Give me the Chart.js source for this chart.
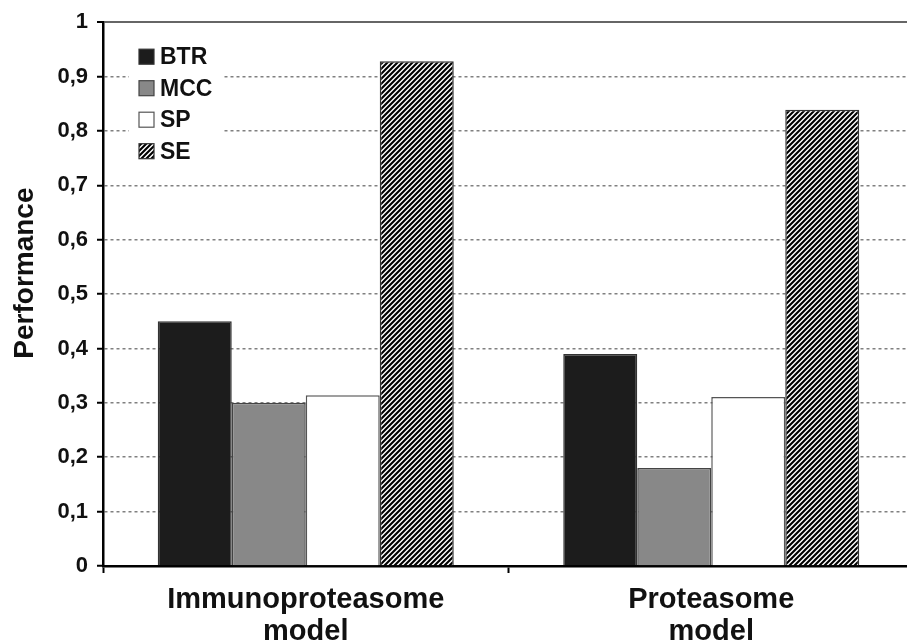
<!DOCTYPE html>
<html><head><meta charset="utf-8">
<script src="https://cdn.jsdelivr.net/npm/chart.js@4"></script>
<style>html,body{margin:0;padding:0;background:#fff;overflow:hidden}#wrap{position:relative;width:920px;height:644px}</style>
</head><body><div id="wrap"><canvas id="c"></canvas></div>
<script>
const categories = [['Immunoproteasome', 'model'], ['Proteasome', 'model']];
const seriesNames = ['BTR', 'MCC', 'SP', 'SE'];
const btr = [0.45, 0.39];
const mcc = [0.30, 0.18];
const sp = [0.314, 0.311];
const se = [0.928, 0.839];
const yTickLabels = ['0', '0,1', '0,2', '0,3', '0,4', '0,5', '0,6', '0,7', '0,8', '0,9', '1'];
const yTitle = 'Performance';

const FONT = "'Liberation Sans', Arial, sans-serif";

function hatch() {
  const c = document.createElement('canvas');
  c.width = 5; c.height = 5;
  const g = c.getContext('2d');
  g.fillStyle = '#fff'; g.fillRect(0, 0, 5, 5);
  g.strokeStyle = '#000'; g.lineWidth = 2.1;
  g.beginPath();
  g.moveTo(-1, 6); g.lineTo(6, -1);
  g.moveTo(-1, 1); g.lineTo(1, -1);
  g.moveTo(4, 6); g.lineTo(6, 4);
  g.stroke();
  return g.createPattern(c, 'repeat');
}
const hatchPattern = hatch();

const insideLegend = {
  id: 'insideLegend',
  afterDatasetsDraw(chart) {
    const {ctx, chartArea: a} = chart;
    ctx.save();
    ctx.fillStyle = '#fff';
    ctx.fillRect(a.left + 26, a.top + 17, 94, 128);
    chart.data.datasets.forEach((ds, i) => {
      const bx = a.left + 36, by = a.top + 27 + i * 31.5;
      ctx.fillStyle = ds.backgroundColor;
      ctx.fillRect(bx, by, 15, 15);
      ctx.lineWidth = 1.2;
      ctx.strokeStyle = ds.borderColor;
      ctx.strokeRect(bx, by, 15, 15);
      ctx.fillStyle = '#111';
      ctx.font = 'bold 23px ' + FONT;
      ctx.textAlign = 'left';
      ctx.textBaseline = 'middle';
      ctx.fillText(ds.label, bx + 21, by + 8.5);
    });
    ctx.restore();
  }
};

const yTitlePlugin = {
  id: 'yTitlePlugin',
  afterDraw(chart) {
    const {ctx, chartArea: a} = chart;
    ctx.save();
    ctx.translate(a.left - 78, (a.top + a.bottom) / 2 - 21);
    ctx.rotate(-Math.PI / 2);
    ctx.fillStyle = '#111';
    ctx.font = 'bold 28px ' + FONT;
    ctx.textAlign = 'center';
    ctx.textBaseline = 'middle';
    ctx.fillText(yTitle, 0, 0);
    ctx.restore();
  }
};

new Chart(document.getElementById('c'), {
  type: 'bar',
  data: {
    labels: categories,
    datasets: [
      {label: seriesNames[0], data: btr, backgroundColor: '#1c1c1c', borderColor: '#333', borderWidth: 1.5},
      {label: seriesNames[1], data: mcc, backgroundColor: '#888888', borderColor: '#444', borderWidth: 1.5},
      {label: seriesNames[2], data: sp, backgroundColor: '#ffffff', borderColor: '#555', borderWidth: 1.5},
      {label: seriesNames[3], data: se, backgroundColor: hatchPattern, borderColor: '#333', borderWidth: 1.5}
    ]
  },
  options: {
    responsive: true,
    maintainAspectRatio: false,
    animation: false,
    layout: {padding: {top: 21, right: 6, left: 1, bottom: 0}},
    datasets: {bar: {categoryPercentage: 0.73, barPercentage: 1.0}},
    plugins: {legend: {display: false}, tooltip: {enabled: false}},
    scales: {
      x: {
        grid: {display: true, drawOnChartArea: false, drawTicks: true, tickLength: 7, tickColor: '#000', tickWidth: 2, offset: true},
        border: {display: true, color: '#000', width: 2.5},
        ticks: {color: '#111', font: {family: FONT, weight: 'bold', size: 29, lineHeight: 1.1}, padding: 11, maxRotation: 0, autoSkip: false},
        afterFit(s) { s.height = 78; }
      },
      y: {
        min: 0, max: 1,
        ticks: {stepSize: 0.1, callback: (v, i) => yTickLabels[i], color: '#111', font: {family: FONT, weight: 'bold', size: 22}, padding: 9},
        grid: {
          color: c => (c.tick && c.tick.value > 0.99) ? '#666' : (c.tick && c.tick.value < 0.01 ? 'rgba(0,0,0,0)' : '#808080'),
          lineWidth: c => (c.tick && c.tick.value > 0.99) ? 2 : 1.5,
          tickColor: '#000', tickWidth: 2, tickLength: 6, drawTicks: true
        },
        border: {display: true, color: '#000', width: 2.5, dash: c => (c.tick && c.tick.value > 0.01 && c.tick.value < 0.99) ? [3, 3] : []},
        afterFit(s) { s.width = 102; }
      }
    }
  },
  plugins: [insideLegend, yTitlePlugin]
});
</script>
</body></html>
